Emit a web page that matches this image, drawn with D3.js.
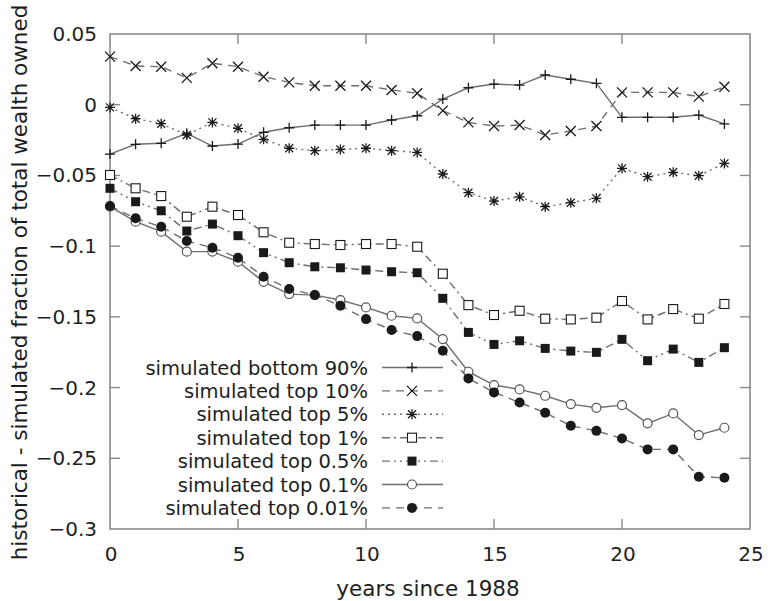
<!DOCTYPE html>
<html><head><meta charset="utf-8">
<script src="https://cdn.jsdelivr.net/npm/d3@7"></script>
<style>body{margin:0;background:#fff}svg{display:block;font-family:"DejaVu Sans",sans-serif}</style>
</head><body><svg id="c" width="768" height="601"></svg>
<script>
const years = d3.range(0, 25);
const bottom90 = [-0.0349,-0.028,-0.0273,-0.0202,-0.0292,-0.0278,-0.0195,-0.0163,-0.0144,-0.0144,-0.0144,-0.0108,-0.0078,0.004,0.012,0.0146,0.0139,0.021,0.018,0.0151,-0.0089,-0.0089,-0.0089,-0.0073,-0.0136];
const top10 = [0.034,0.0274,0.0269,0.019,0.0293,0.0269,0.0198,0.0158,0.0134,0.0134,0.0134,0.0104,0.0081,-0.0042,-0.0125,-0.0151,-0.0144,-0.0214,-0.0186,-0.0151,0.0087,0.0087,0.0087,0.0057,0.0127];
const top5 = [-0.0019,-0.0099,-0.0134,-0.0214,-0.0125,-0.0167,-0.0245,-0.0308,-0.0325,-0.0316,-0.0308,-0.0325,-0.0337,-0.049,-0.0622,-0.0681,-0.0651,-0.0721,-0.0693,-0.0662,-0.045,-0.0509,-0.0478,-0.0502,-0.0415];
const top1 = [-0.0497,-0.0591,-0.0646,-0.0792,-0.0721,-0.078,-0.0902,-0.0976,-0.0985,-0.0992,-0.0985,-0.0985,-0.1004,-0.1195,-0.1417,-0.1487,-0.1457,-0.1513,-0.1518,-0.1506,-0.1388,-0.1518,-0.1445,-0.1513,-0.1409];
const top05 = [-0.0591,-0.0686,-0.075,-0.0893,-0.0844,-0.0926,-0.1046,-0.1117,-0.1146,-0.1153,-0.1169,-0.1181,-0.1188,-0.1369,-0.161,-0.1695,-0.1669,-0.1723,-0.1742,-0.1751,-0.1659,-0.181,-0.1728,-0.1822,-0.1718];
const top01 = [-0.0721,-0.0827,-0.0898,-0.1039,-0.1039,-0.111,-0.1252,-0.1339,-0.1346,-0.1381,-0.1433,-0.1492,-0.1511,-0.1657,-0.1888,-0.1982,-0.2013,-0.2058,-0.2117,-0.2143,-0.2124,-0.2253,-0.2183,-0.2336,-0.2284];
const top001 = [-0.0716,-0.0803,-0.0863,-0.0964,-0.1011,-0.1082,-0.1216,-0.1303,-0.1346,-0.1421,-0.1516,-0.1593,-0.1636,-0.174,-0.1935,-0.2034,-0.2105,-0.2178,-0.227,-0.2306,-0.236,-0.2437,-0.2437,-0.2631,-0.2638];
const seriesNames = ["simulated bottom 90%","simulated top 10%","simulated top 5%","simulated top 1%","simulated top 0.5%","simulated top 0.1%","simulated top 0.01%"];
const xTicks = [0,5,10,15,20,25];
const yTicks = [0.05,0,-0.05,-0.1,-0.15,-0.2,-0.25,-0.3];
const xTitle = "years since 1988";
const yTitle = "historical - simulated fraction of total wealth owned";

const seriesValues = [bottom90, top10, top5, top1, top05, top01, top001];
const styles = [
  {dash:null, marker:"plus"},
  {dash:"8,6", marker:"cross"},
  {dash:"2,4", marker:"star"},
  {dash:"8,4,2,4", marker:"sqOpen"},
  {dash:"8,4,2,4,2,4", marker:"sqFill"},
  {dash:null, marker:"circOpen"},
  {dash:"8,6", marker:"circFill"}
];

const L=110, R=750, T=34, B=529;
const x = d3.scaleLinear().domain([0,25]).range([L,R]);
const y = d3.scaleLinear().domain([-0.3,0.05]).range([B,T]);
const svg = d3.select("#c");
const lineCol = "#6e6e6e", markCol = "#1a1a1a", axisCol = "#8a8a8a", txtCol = "#1e1e1e";

function drawMarker(g, type){
  const s = 5;
  if(type==="plus"){
    g.append("path").attr("d",`M${-s},0H${s}M0,${-s}V${s}`).attr("stroke",markCol).attr("stroke-width",1.3).attr("fill","none");
  } else if(type==="cross"){
    g.append("path").attr("d",`M${-s},${-s}L${s},${s}M${-s},${s}L${s},${-s}`).attr("stroke",markCol).attr("stroke-width",1.3).attr("fill","none");
  } else if(type==="star"){
    g.append("path").attr("d",`M${-s},0H${s}M0,${-s}V${s}M${-s+1},${-s+1}L${s-1},${s-1}M${-s+1},${s-1}L${s-1},${-s+1}`).attr("stroke",markCol).attr("stroke-width",1.3).attr("fill","none");
  } else if(type==="sqOpen"){
    g.append("rect").attr("x",-4.5).attr("y",-4.5).attr("width",9).attr("height",9).attr("fill","#fff").attr("stroke",markCol).attr("stroke-width",1.1);
  } else if(type==="sqFill"){
    g.append("rect").attr("x",-4.5).attr("y",-4.5).attr("width",9).attr("height",9).attr("fill",markCol);
  } else if(type==="circOpen"){
    g.append("circle").attr("r",4.5).attr("fill","#fff").attr("stroke","#555").attr("stroke-width",1.2);
  } else if(type==="circFill"){
    g.append("circle").attr("r",5).attr("fill",markCol);
  }
}

// axes frame and ticks
const ax = svg.append("g");
ax.append("rect").attr("x",L).attr("y",T).attr("width",R-L).attr("height",B-T).attr("fill","none").attr("stroke",axisCol).attr("stroke-width",1.6);
xTicks.forEach(t=>{
  if(t>0 && t<25){
    ax.append("line").attr("x1",x(t)).attr("x2",x(t)).attr("y1",B).attr("y2",B-10).attr("stroke",axisCol).attr("stroke-width",1.4);
    ax.append("line").attr("x1",x(t)).attr("x2",x(t)).attr("y1",T).attr("y2",T+10).attr("stroke",axisCol).attr("stroke-width",1.4);
  }
  ax.append("text").attr("x",x(t)+1).attr("y",561).attr("text-anchor","middle").attr("font-size",20).attr("fill",txtCol).text(t);
});
yTicks.forEach(t=>{
  if(t<0.049 && t>-0.299){
    ax.append("line").attr("x1",L).attr("x2",L+10).attr("y1",y(t)).attr("y2",y(t)).attr("stroke",axisCol).attr("stroke-width",1.4);
    ax.append("line").attr("x1",R).attr("x2",R-10).attr("y1",y(t)).attr("y2",y(t)).attr("stroke",axisCol).attr("stroke-width",1.4);
  }
  ax.append("text").attr("x",97).attr("y",y(t)+7).attr("text-anchor","end").attr("font-size",20).attr("fill",txtCol).text(d3.format("")(t));
});
svg.append("text").attr("x",(L+R)/2 -2).attr("y",596).attr("text-anchor","middle").attr("font-size",21.5).attr("fill",txtCol).text(xTitle);
svg.append("text").attr("transform",`translate(27,${(T+B)/2+1}) rotate(-90)`).attr("text-anchor","middle").attr("font-size",21.5).attr("fill",txtCol).text(yTitle);

// series
const line = d3.line().x((d,i)=>x(years[i])).y(d=>y(d));
seriesValues.forEach((vals,k)=>{
  svg.append("path").attr("d",line(vals)).attr("fill","none").attr("stroke",lineCol).attr("stroke-width",1.4)
    .attr("stroke-dasharray",styles[k].dash);
});
seriesValues.forEach((vals,k)=>{
  vals.forEach((v,i)=>{
    const g = svg.append("g").attr("transform",`translate(${x(years[i])},${y(v)})`);
    drawMarker(g, styles[k].marker);
  });
});

// legend
seriesNames.forEach((name,k)=>{
  const ly = 367.5 + k*23.4;
  svg.append("text").attr("x",368).attr("y",ly+7).attr("text-anchor","end").attr("font-size",19.5).attr("fill",txtCol).text(name);
  svg.append("line").attr("x1",382).attr("x2",443).attr("y1",ly).attr("y2",ly).attr("stroke",lineCol).attr("stroke-width",1.4).attr("stroke-dasharray",styles[k].dash);
  const g = svg.append("g").attr("transform",`translate(412,${ly})`);
  drawMarker(g, styles[k].marker);
});
</script>
</body></html>
